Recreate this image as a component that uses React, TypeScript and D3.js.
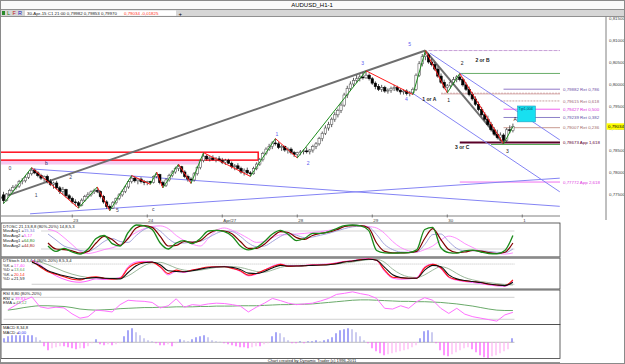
import * as d3 from "d3";

const W = 625;
const H = 364;

// hourly candles, prices in pips (x 0.0001): [high, low, close]; open = previous close
const firstOpen = 7748;
const candles: number[][] = [
  [7755, 7728, 7735], [7752, 7733, 7750], [7762, 7746, 7758], [7770, 7754, 7765], [7772, 7760, 7768],
  [7782, 7764, 7778], [7786, 7772, 7780], [7792, 7776, 7788], [7800, 7784, 7796], [7810, 7792, 7804],
  [7808, 7795, 7798], [7802, 7788, 7792], [7796, 7782, 7786], [7792, 7778, 7790], [7794, 7774, 7778],
  [7784, 7768, 7772], [7778, 7762, 7775], [7780, 7760, 7764], [7768, 7750, 7756], [7766, 7748, 7760],
  [7762, 7742, 7746], [7750, 7736, 7740], [7744, 7728, 7732], [7738, 7722, 7730], [7734, 7718, 7724],
  [7740, 7722, 7736], [7748, 7732, 7744], [7754, 7740, 7748], [7758, 7744, 7755], [7762, 7750, 7758],
  [7766, 7752, 7756], [7758, 7740, 7744], [7748, 7728, 7732], [7736, 7716, 7722], [7726, 7712, 7718],
  [7734, 7716, 7730], [7742, 7726, 7740], [7752, 7736, 7748], [7760, 7744, 7756], [7770, 7752, 7766],
  [7782, 7762, 7778], [7792, 7774, 7786], [7790, 7776, 7780], [7786, 7772, 7784], [7788, 7774, 7778],
  [7782, 7770, 7776], [7780, 7770, 7778], [7780, 7772, 7776], [7792, 7774, 7790], [7800, 7786, 7794],
  [7796, 7772, 7776], [7780, 7764, 7770], [7786, 7766, 7782], [7796, 7778, 7792], [7804, 7788, 7800],
  [7812, 7796, 7808], [7818, 7802, 7812], [7814, 7796, 7800], [7804, 7786, 7790], [7794, 7778, 7784],
  [7788, 7774, 7782], [7800, 7778, 7796], [7814, 7792, 7810], [7830, 7806, 7826], [7844, 7822, 7836],
  [7840, 7826, 7830], [7836, 7824, 7832], [7838, 7826, 7828], [7834, 7822, 7830], [7836, 7824, 7826],
  [7832, 7818, 7822], [7830, 7816, 7826], [7830, 7818, 7820], [7824, 7808, 7812], [7818, 7804, 7814],
  [7820, 7806, 7808], [7812, 7796, 7800], [7808, 7792, 7804], [7810, 7794, 7798], [7802, 7790, 7796],
  [7812, 7794, 7808], [7822, 7804, 7818], [7832, 7814, 7828], [7846, 7824, 7842], [7856, 7838, 7852],
  [7864, 7848, 7858], [7870, 7852, 7866], [7876, 7860, 7864], [7868, 7852, 7856], [7862, 7848, 7858],
  [7860, 7846, 7850], [7856, 7842, 7852], [7856, 7840, 7844], [7848, 7834, 7840], [7846, 7832, 7844],
  [7850, 7838, 7846], [7852, 7840, 7848], [7856, 7842, 7846], [7852, 7840, 7850], [7862, 7844, 7858],
  [7868, 7852, 7864], [7880, 7860, 7876], [7892, 7870, 7888], [7906, 7884, 7900], [7914, 7894, 7908],
  [7924, 7902, 7920], [7936, 7914, 7930], [7944, 7924, 7940], [7958, 7934, 7952], [7980, 7948, 7975],
  [7996, 7968, 7990], [8006, 7984, 8000], [8014, 7994, 8008], [8020, 8002, 8012], [8022, 8006, 8016],
  [8026, 8010, 8014], [8030, 8012, 8020], [8024, 8008, 8012], [8016, 7998, 8002], [8006, 7988, 7994],
  [8000, 7984, 7988], [7998, 7982, 7992], [7996, 7980, 7984], [7990, 7978, 7986], [7994, 7980, 7990],
  [7998, 7984, 7992], [7996, 7982, 7986], [7990, 7976, 7982], [7988, 7976, 7984], [7988, 7974, 7978],
  [7984, 7972, 7980], [7992, 7976, 7988], [8024, 7984, 8020], [8052, 8016, 8046], [8068, 8040, 8062],
  [8076, 8054, 8066], [8070, 8046, 8050], [8058, 8040, 8044], [8050, 8030, 8034], [8040, 8014, 8018],
  [8024, 8000, 8004], [8010, 7988, 7992], [8000, 7980, 7996], [8008, 7990, 8004], [8016, 7998, 8010],
  [8020, 8004, 8016], [8024, 8006, 8010], [8014, 7994, 7998], [8004, 7984, 7988], [7994, 7972, 7976],
  [7982, 7962, 7966], [7972, 7950, 7954], [7960, 7938, 7942], [7948, 7926, 7930], [7936, 7916, 7920],
  [7928, 7904, 7908], [7914, 7892, 7896], [7902, 7882, 7886], [7896, 7874, 7878], [7890, 7870, 7884],
  [7888, 7864, 7872], [7900, 7868, 7896], [7906, 7888, 7894], [7910, 7890, 7903],
];

// zigzag swing points: candle index and which price (H high, L low, C close)
const pivots = [
  [0, "L"], [9, "H"], [24, "L"], [30, "H"], [34, "L"], [41, "H"], [47, "L"], [49, "H"],
  [51, "L"], [56, "H"], [60, "L"], [64, "H"], [79, "L"], [87, "H"], [94, "L"], [116, "H"],
  [131, "L"], [135, "H"], [142, "L"], [146, "H"], [160, "L"], [163, "C"],
] as [number, string][];

// trend lines: [candle index, price] pairs
const grayLines = [
  [[-1, 7741], [135, 8076]],
  [[135, 8076], [160, 7864]],
];
const blueLines = [
  [[9, 7807], [178, 7722]],
  [[8.5, 7705], [178, 7786]],
  [[136.5, 8070], [178, 7873]],
  [[130.7, 7980], [178, 7755]],
];

// horizontal levels
const levels = [
  { p: 8076, from: 136, color: "#c8a0d8", w: 1, dash: "4,1", label: "" },
  { p: 8024, from: 146, color: "#6aae6a", w: 1, dash: "", label: "" },
  { p: 7979, from: 140, color: "#d4a8a8", w: 1, dash: "2,1", label: "" },
  { p: 7977.5, from: 140, color: "#d4a8a8", w: 1, dash: "", label: "" },
  { p: 7988.2, from: 160, color: "#9078c8", w: 1, dash: "", label: "0,79882 Ret 0,786" },
  { p: 7961.5, from: 159, color: "#c8a0a0", w: 1, dash: "2,1", label: "0,79615 Ret 0,618" },
  { p: 7942.7, from: 160, color: "#f060f0", w: 1, dash: "", label: "0,79427 Ret 0,500" },
  { p: 7923.9, from: 160, color: "#8c80c8", w: 1, dash: "", label: "0,79239 Ret 0,382" },
  { p: 7900.7, from: 160, color: "#c89a90", w: 1, dash: "", label: "0,79007 Ret 0,236" },
  { p: 7862.5, from: 156, color: "#58a858", w: 1, dash: "", label: "" },
  { p: 7867.3, from: 146, color: "#5a0028", w: 2, dash: "", label: "0,78673 App 1,618" },
  { p: 7777.2, from: 146, color: "#f070f0", w: 1, dash: "", label: "0,77772 App 2,618" },
];
const levelColors: Record<string, string> = {
  "0,79882 Ret 0,786": "#7050a8",
  "0,79615 Ret 0,618": "#a06878",
  "0,79427 Ret 0,500": "#e030e0",
  "0,79239 Ret 0,382": "#6050a8",
  "0,79007 Ret 0,236": "#a06868",
  "0,78673 App 1,618": "#600030",
  "0,77772 App 2,618": "#e040e0",
};

// zones [fromIdx, toIdx, top, bottom]
const redZone = [-2, 81.5, 7845, 7827];
const pinkZone = [-2, 63, 7827, 7817];
const targetBox = [164.5, 170.2, 7950, 7914];

const waveLabels = [
  { t: "5", i: 129.5, p: 8086, c: "#5a5af0" },
  { t: "3", i: 114.5, p: 8043, c: "#5a5af0" },
  { t: "4", i: 128.5, p: 7961, c: "#5a5af0" },
  { t: "1", i: 87, p: 7882, c: "#5a5af0" },
  { t: "2", i: 97, p: 7816, c: "#5a5af0" },
  { t: "1 or A", i: 134, p: 7962, c: "#202020" },
  { t: "1", i: 142, p: 7959, c: "#202020" },
  { t: "2", i: 146.3, p: 8043, c: "#202020" },
  { t: "2 or B", i: 151, p: 8050, c: "#202020" },
  { t: "3 or C", i: 144.5, p: 7852, c: "#202020" },
  { t: "3", i: 160.8, p: 7843, c: "#202020" },
  { t: "A", i: 163.2, p: 7917, c: "#202020" },
  { t: "0", i: 1.6, p: 7804, c: "#404060" },
  { t: "b", i: 13.3, p: 7816, c: "#202060" },
  { t: "1", i: 10, p: 7743, c: "#404060" },
  { t: "2", i: 21, p: 7784, c: "#404060" },
  { t: "4", i: 30, p: 7750, c: "#404060" },
  { t: "5", i: 36, p: 7708, c: "#404060" },
  { t: "c", i: 47.5, p: 7712, c: "#404060" },
];

const priceTicks = [7750, 7800, 7850, 7900, 7950, 8000, 8050, 8100, 8150];
const lastPrice = 7903.4;
const dayTicks = [22, 46, 70, 94, 118, 142, 166];
const dayLabels = ["23", "24", "Apr/27", "28", "29", "30", "1"];

// DTOSC (sampled every 8px from candle 14.2)
const oscFast = [30, 12, 22, 10, 3, 20, 55, 65, 38, 30, 75, 100, 97, 85, 40, 20, 40, 48, 38, 55,
  80, 82, 78, 62, 30, 17, 25, 45, 70, 82, 68, 48, 55, 72, 72, 78, 88, 98, 100, 97,
  82, 15, 7, 6, 7, 8, 17, 85, 92, 25, 8, 6, 14, 16, 10, 5, 4, 15, 65];
const oscSlow = [40, 20, 18, 14, 6, 12, 40, 62, 52, 32, 55, 90, 98, 92, 62, 30, 32, 45, 42, 48,
  70, 82, 80, 70, 45, 22, 22, 36, 60, 78, 75, 58, 52, 65, 72, 76, 84, 95, 98, 98,
  90, 40, 12, 7, 7, 8, 12, 55, 88, 52, 18, 8, 10, 15, 13, 8, 5, 9, 40];
const oscAvg1 = [70, 50, 30, 22, 15, 12, 25, 45, 55, 45, 42, 65, 85, 93, 80, 55, 40, 40, 44, 46,
  58, 72, 80, 78, 62, 40, 28, 30, 45, 62, 72, 66, 58, 60, 66, 72, 80, 88, 94, 96,
  93, 68, 35, 18, 10, 9, 10, 35, 68, 70, 45, 22, 14, 14, 14, 12, 9, 8, 20];
const oscAvg2 = [85, 78, 58, 35, 12, 5, 10, 18, 24, 35, 58, 75, 88, 95, 97, 88, 65, 48, 36, 30,
  55, 82, 90, 82, 70, 55, 42, 45, 58, 67, 68, 70, 72, 75, 78, 82, 87, 95, 100, 98,
  95, 90, 72, 45, 25, 14, 10, 18, 30, 50, 63, 55, 38, 25, 12, 8, 5, 3, 7];

// DTStoch (sampled every 8px from candle 9.1)
const stK1 = [88, 72, 57, 50, 42, 35, 33, 40, 42, 38, 35, 38, 67, 82, 85, 85, 72, 52, 62, 57,
  62, 67, 71, 72, 72, 67, 60, 47, 52, 62, 72, 79, 73, 74, 75, 77, 77, 79, 82, 87,
  89, 93, 95, 91, 62, 41, 39, 38, 38, 69, 79, 69, 42, 34, 30, 28, 25, 20, 18, 16, 33];
const stD1 = [85, 75, 60, 52, 45, 40, 36, 38, 40, 38, 37, 36, 55, 75, 84, 86, 78, 60, 58, 57,
  60, 65, 69, 71, 72, 70, 64, 53, 52, 58, 68, 76, 74, 74, 75, 76, 77, 78, 81, 86,
  89, 92, 94, 91, 70, 48, 40, 38, 38, 62, 76, 72, 48, 36, 31, 28, 25, 21, 18, 16, 26];
const stK2 = [92, 78, 60, 45, 35, 28, 26, 30, 36, 34, 36, 40, 72, 86, 88, 86, 70, 48, 58, 55,
  62, 66, 70, 72, 73, 68, 58, 45, 50, 62, 74, 80, 75, 75, 76, 78, 79, 80, 84, 88,
  90, 94, 96, 90, 58, 38, 35, 36, 40, 72, 80, 66, 40, 32, 28, 25, 22, 18, 15, 14, 30];
const stD2 = [90, 86, 78, 68, 58, 50, 44, 40, 38, 38, 38, 38, 45, 60, 75, 84, 85, 78, 68, 62,
  60, 62, 66, 70, 72, 72, 70, 64, 58, 56, 62, 70, 74, 75, 75, 76, 77, 78, 80, 83,
  86, 90, 93, 94, 85, 65, 50, 42, 40, 48, 62, 72, 66, 52, 40, 33, 28, 25, 22, 19, 18];

// RSI and its EMA (sampled every 8px from candle 1.4)
const rsi = [46, 59, 72, 81, 54, 50, 53, 51, 35, 23, 27, 45, 43, 40, 60, 72, 70, 69, 66, 51,
  57, 76, 53, 60, 58, 62, 64, 63, 60, 56, 40, 53, 64, 77, 71, 64, 60, 62, 64, 70,
  77, 88, 91, 95, 90, 86, 77, 50, 48, 57, 50, 68, 79, 72, 50, 36, 50, 34, 27, 23,
  19, 15, 32, 39];
const rsiEma = [45, 48, 52, 55, 57, 57, 56, 55, 52, 48, 46, 45, 46, 47, 49, 50, 51, 52, 52, 53,
  53, 54, 54, 54, 55, 55, 56, 56, 56, 57, 57, 57, 58, 59, 60, 60, 61, 61, 62, 64,
  66, 68, 70, 72, 73, 73, 72, 71, 70, 69, 69, 68, 68, 67, 66, 64, 62, 59, 56, 52,
  48, 45, 44, 44];

// MACD histogram
const macd = [4, 6, 7, 7, 7, 7, 7, 7, 5, 2, -4, -8, -6, -5, -4, -4, -5, -6, -7, -6,
  -6, -4, -1, 3, -2, -3, -2, -3, -2, -1, 6, 12, 14, 10, 7, 4, 2, 1, -1, -3,
  -3, -2, -4, -1, 3, 2, 1, 3, 5, 6, 7, 5, 2, 1, 0.5, -1, -2, -3, -4, -5,
  -5, -6, -5, -4, -4, -2, -1, 6, 10, 9, 5, 2, -1, -1, 1, -1, 1, 1, 2, 1,
  2, 3, 5, 9, 12, 13, 14, 13, 10, 6, 2, -1, -6, -9, -11, -13, -12, -11, -10, -9,
  -8, -7, -5, -3, 4, 11, 12, 10, -1, -8, -13, -14, -12, -10, -8, -6, -5, -7, -10, -13,
  -15, -16, -14, -13, -11, -9, -7, 4];

const FONT = "'Liberation Sans', Arial, sans-serif";

export default function App() {
  const xIdx = d3.scaleLinear().domain([0, 163]).range([3.5, 512.9]);
  const y = d3.scaleLinear().domain([7750, 8150]).range([194, 18]);

  const ohlc = candles.map((c, i) => ({
    i,
    o: i === 0 ? firstOpen : candles[i - 1][2],
    h: c[0],
    l: c[1],
    c: c[2],
  }));

  const pivotPts = pivots.map(([i, t]) => {
    const c = candles[i];
    return [i, t === "H" ? c[0] : t === "L" ? c[1] : c[2]] as [number, number];
  });

  const panels = [
    { top: 223, bottom: 257 },
    { top: 258, bottom: 289 },
    { top: 290, bottom: 324.5 },
    { top: 324.5, bottom: 358.5 },
  ];

  const yOsc = d3.scaleLinear().domain([0, 100]).range([255, 225]);
  const yStoch = d3.scaleLinear().domain([0, 100]).range([291, 257.3]);
  const yRsi = d3.scaleLinear().domain([0, 100]).range([326.6, 290]);
  const yMacd = d3.scaleLinear().domain([-16, 16]).range([358.3, 326.3]);

  const sampleX = (n: number, start: number) =>
    d3.scaleLinear().domain([0, n - 1]).range([xIdx(start), xIdx(163)]);

  const series = (vals: number[], start: number, sy: d3.ScaleLinear<number, number>, curve = true) => {
    const sx = sampleX(vals.length, start);
    const g = d3
      .line<number>()
      .x((_, i) => sx(i))
      .y((d) => sy(d));
    if (curve) g.curve(d3.curveMonotoneX);
    return g(vals) || "";
  };

  const macdX = d3.scaleLinear().domain([0, macd.length - 1]).range([4, 512]);

  const txt = (s: string, x: number, yy: number, fill = "#000", size = 5, anchor = "start") => (
    <text x={x} y={yy} fill={fill} fontSize={size} fontFamily={FONT} textAnchor={anchor as any}>
      {s}
    </text>
  );

  return (
    <div>
      <style>{`body{margin:0;background:#fff}`}</style>
      <svg width={W} height={H} viewBox={`0 0 ${W} ${H}`} style={{ display: "block" }}>
        <defs>
          <clipPath id="mainClip">
            <rect x={1} y={17} width={605} height={199} />
          </clipPath>
          {panels.map((p, k) => (
            <clipPath id={`pc${k}`} key={k}>
              <rect x={1} y={p.top} width={559} height={p.bottom - p.top} />
            </clipPath>
          ))}
        </defs>
        <rect x={0} y={0} width={W} height={H} fill="#fff" />

        {/* title and toolbar */}
        <rect x={0} y={0} width={W} height={9.5} fill="#fafafa" />
        {txt("AUDUSD_H1-1", 312, 7, "#000", 6, "middle")}
        <rect x={0} y={9.5} width={W} height={7} fill="#d6d6d6" stroke="#7a7a7a" strokeWidth={0.8} />
        <rect x={2} y={11} width={3} height={4} fill="#2a8a2a" />
        {txt("L", 7, 15.3, "#208020", 5.5)}
        {txt("F", 12.5, 15.3, "#c02020", 5.5)}
        {txt("R", 18, 15.3, "#2020c0", 5.5)}
        <rect x={25} y={10.5} width={151} height={5.3} fill="#fff" />
        {txt("30-Apr-15 C1 21:00   0,79982   0,79853   0,79970", 27, 15, "#202020", 4.4)}
        {txt("0,79034   -0,01825", 124, 15, "#ff3020", 4.4)}
        {txt("+", 178.5, 15.6, "#000", 6)}

        {/* main chart */}
        <g clipPath="url(#mainClip)">
          <rect
            x={xIdx(pinkZone[0])}
            y={y(pinkZone[2])}
            width={xIdx(pinkZone[1]) - xIdx(pinkZone[0])}
            height={y(pinkZone[3]) - y(pinkZone[2])}
            fill="#f6c8f0"
          />
          <rect
            x={xIdx(redZone[0])}
            y={y(redZone[2])}
            width={xIdx(redZone[1]) - xIdx(redZone[0])}
            height={y(redZone[3]) - y(redZone[2])}
            fill="none"
            stroke="#ff1020"
            strokeWidth={1.5}
          />
          {levels.map((l, k) => (
            <line
              key={k}
              x1={xIdx(l.from)}
              x2={560}
              y1={y(l.p)}
              y2={y(l.p)}
              stroke={l.color}
              strokeWidth={l.w}
              strokeDasharray={l.dash || undefined}
            />
          ))}
          {blueLines.map((b, k) => (
            <line
              key={k}
              x1={xIdx(b[0][0])}
              y1={y(b[0][1])}
              x2={xIdx(b[1][0])}
              y2={y(b[1][1])}
              stroke="#8484f4"
              strokeWidth={1}
            />
          ))}
          {grayLines.map((b, k) => (
            <line
              key={k}
              x1={xIdx(b[0][0])}
              y1={y(b[0][1])}
              x2={xIdx(b[1][0])}
              y2={y(b[1][1])}
              stroke="#6e6e6e"
              strokeWidth={2}
            />
          ))}
          <rect
            x={xIdx(targetBox[0])}
            y={y(targetBox[2])}
            width={xIdx(targetBox[1]) - xIdx(targetBox[0])}
            height={y(targetBox[3]) - y(targetBox[2])}
            fill="#18e0f0"
            stroke="#20a0c0"
            strokeWidth={0.6}
          />
          {txt("Tgt1,004", xIdx(targetBox[0]) + 1, y(targetBox[2]) + 4, "#004060", 3.6)}

          {ohlc.map((d) => {
            const up = d.c >= d.o;
            const x = xIdx(d.i);
            const top = y(Math.max(d.o, d.c));
            const bh = Math.max(0.8, y(Math.min(d.o, d.c)) - top);
            return (
              <g key={d.i}>
                <line x1={x} x2={x} y1={y(d.h)} y2={y(d.l)} stroke="#303030" strokeWidth={0.8} />
                <rect
                  x={x - 1.2}
                  y={top}
                  width={2.4}
                  height={bh}
                  fill={up ? "#fff" : "#000"}
                  stroke={up ? "#5a5a5a" : "#000"}
                  strokeWidth={0.6}
                />
              </g>
            );
          })}

          {pivotPts.slice(1).map((p, k) => {
            const a = pivotPts[k];
            return (
              <line
                key={k}
                x1={xIdx(a[0])}
                y1={y(a[1])}
                x2={xIdx(p[0])}
                y2={y(p[1])}
                stroke={p[1] > a[1] ? "#1c8c1c" : "#ff1818"}
                strokeWidth={1}
              />
            );
          })}

          {waveLabels.map((w, k) => (
            <text key={k} x={xIdx(w.i)} y={y(w.p)} fill={w.c} fontSize={5} fontFamily={FONT} fontWeight={w.t.length > 1 ? "bold" : "normal"}>
              {w.t}
            </text>
          ))}
          {levels
            .filter((l) => l.label)
            .map((l, k) => (
              <text key={k} x={563} y={y(l.p) + 1.6} fill={levelColors[l.label]} fontSize={4.4} fontFamily={FONT}>
                {l.label}
              </text>
            ))}
        </g>

        {/* price axis */}
        <line x1={606} x2={606} y1={16.5} y2={220} stroke="#808080" strokeWidth={1} />
        {priceTicks.map((p) => (
          <text key={p} x={609} y={y(p) + 1.7} fontSize={4.4} fontFamily={FONT} fill="#404040">
            {d3.format(".5f")(p / 10000).replace(".", ",")}
          </text>
        ))}
        <rect x={606.5} y={y(lastPrice) - 3.2} width={18} height={6.4} fill="#ffff00" />
        <text x={608} y={y(lastPrice) + 1.7} fontSize={4.4} fontFamily={FONT} fill="#000">
          {d3.format(".5f")(lastPrice / 10000).replace(".", ",")}
        </text>

        {/* time axis */}
        <line x1={0} x2={560} y1={216} y2={216} stroke="#606060" strokeWidth={0.8} />
        {dayTicks.map((t, k) => (
          <g key={t}>
            <line x1={xIdx(t)} x2={xIdx(t)} y1={214.5} y2={217.5} stroke="#606060" strokeWidth={0.8} />
            {txt(dayLabels[k], xIdx(t) + 1, 221.5, "#404040", 4.4)}
          </g>
        ))}

        {/* indicator panels */}
        {panels.map((p, k) => (
          <rect key={k} x={1} y={p.top} width={559} height={p.bottom - p.top} fill="#fff" stroke="#3a3a3a" strokeWidth={0.8} />
        ))}
        <line x1={0} x2={560} y1={257.5} y2={257.5} stroke="#8a8a8a" strokeWidth={2} />

        {/* DTOSC */}
        <g clipPath="url(#pc0)">
          {[80, 20].map((v) => (
            <line key={v} x1={xIdx(12)} x2={xIdx(163.5)} y1={yOsc(v)} y2={yOsc(v)} stroke="#c8c8c8" strokeWidth={0.8} />
          ))}
          <path d={series(oscAvg2, 14.24, yOsc)} fill="none" stroke="#ff80ff" strokeWidth={0.9} />
          <path d={series(oscAvg1, 14.24, yOsc)} fill="none" stroke="#9a9ad8" strokeWidth={0.9} />
          <path d={series(oscSlow, 14.24, yOsc)} fill="none" stroke="#800000" strokeWidth={1.2} />
          <path d={series(oscFast, 14.24, yOsc)} fill="none" stroke="#1a8a1a" strokeWidth={1.3} />
        </g>
        {txt("DTOSC 21,13,8,8 (80%-20%) 14,8,5,3", 3, 227.6, "#202020", 4.2)}
        {txt("MovAvg1 =", 3, 232.4, "#202020", 4.2)}
        {txt("15,34", 24, 232.4, "#7a7ad0", 4.2)}
        {txt("MovAvg2 =", 3, 237.2, "#202020", 4.2)}
        {txt("5,17", 24, 237.2, "#ff40ff", 4.2)}
        {txt("MovAvg1 =", 3, 242, "#202020", 4.2)}
        {txt("64,80", 24, 242, "#1a8a1a", 4.2)}
        {txt("MovAvg2 =", 3, 246.8, "#202020", 4.2)}
        {txt("44,80", 24, 246.8, "#a01010", 4.2)}

        {/* DTStoch */}
        <g clipPath="url(#pc1)">
          <line x1={xIdx(9)} x2={xIdx(163.5)} y1={yStoch(80)} y2={yStoch(80)} stroke="#b0b0b0" strokeWidth={0.8} strokeDasharray="1,1" />
          <line x1={xIdx(9)} x2={xIdx(163.5)} y1={yStoch(20)} y2={yStoch(20)} stroke="#c0c0c0" strokeWidth={0.8} />
          <path d={series(stD2, 9.1, yStoch)} fill="none" stroke="#90b090" strokeWidth={0.9} />
          <path d={series(stK2, 9.1, yStoch)} fill="none" stroke="#ff60ff" strokeWidth={1} />
          <path d={series(stK1, 9.1, yStoch)} fill="none" stroke="#ff1010" strokeWidth={1.1} />
          <path d={series(stD1, 9.1, yStoch)} fill="none" stroke="#101010" strokeWidth={1.1} />
        </g>
        {txt("DTStoch 14,3,4,4 (80%-20%) 8,5,3,4", 3, 262, "#202020", 4.2)}
        {txt("%K =", 3, 266.6, "#202020", 4.2)}
        {txt("17,40", 14, 266.6, "#ff40ff", 4.2)}
        {txt("%D =", 3, 271.2, "#202020", 4.2)}
        {txt("13,64", 14, 271.2, "#60a060", 4.2)}
        {txt("%K =", 3, 275.8, "#202020", 4.2)}
        {txt("20,14", 14, 275.8, "#ff2020", 4.2)}
        {txt("%D =", 3, 280.4, "#202020", 4.2)}
        {txt("21,59", 14, 280.4, "#202020", 4.2)}

        {/* RSI */}
        <g clipPath="url(#pc2)">
          {[80, 20].map((v) => (
            <line key={v} x1={xIdx(0)} x2={xIdx(163.5)} y1={yRsi(v)} y2={yRsi(v)} stroke="#c4c4c4" strokeWidth={0.8} />
          ))}
          <path d={series(rsiEma, 1.4, yRsi)} fill="none" stroke="#6aaa6a" strokeWidth={1} />
          <path d={series(rsi, 1.4, yRsi, false)} fill="none" stroke="#ff70ff" strokeWidth={1} />
        </g>
        {txt("RSI 8,80 (80%-20%)", 3, 295, "#202020", 4.2)}
        {txt("RSI =", 3, 299.6, "#202020", 4.2)}
        {txt("39,83", 15, 299.6, "#ff40ff", 4.2)}
        {txt("EMA =", 3, 304.2, "#202020", 4.2)}
        {txt("43,12", 16, 304.2, "#60a060", 4.2)}

        {/* MACD */}
        <g clipPath="url(#pc3)">
          <line x1={xIdx(0)} x2={xIdx(163.5)} y1={yMacd(0)} y2={yMacd(0)} stroke="#b0b0b0" strokeWidth={0.8} />
          {macd.map((v, i) => {
            const prev = i > 0 ? macd[i - 1] : 0;
            const col = v >= 0 ? (v >= prev ? "#6a6af2" : "#aaaae6") : v <= prev ? "#ff50ff" : "#ffb0f4";
            return (
              <line key={i} x1={macdX(i)} x2={macdX(i)} y1={yMacd(0)} y2={yMacd(v)} stroke={col} strokeWidth={1.2} />
            );
          })}
        </g>
        {txt("MACD 8,34,8", 3, 329.3, "#202020", 4.2)}
        {txt("MACD =", 3, 334, "#202020", 4.2)}
        {txt("0,00", 18, 334, "#3030f0", 4.2)}

        {/* footer */}
        <line x1={0} x2={560} y1={362.5} y2={362.5} stroke="#7a7a7a" strokeWidth={0.8} />
        {txt("Chart created by Dynamic Trader  (c) 1996-2011", 312, 362, "#202020", 4.2, "middle")}

        <rect x={0.5} y={0.5} width={W - 1} height={H - 1} fill="none" stroke="#8a8a8a" strokeWidth={1} />
      </svg>
    </div>
  );
}
